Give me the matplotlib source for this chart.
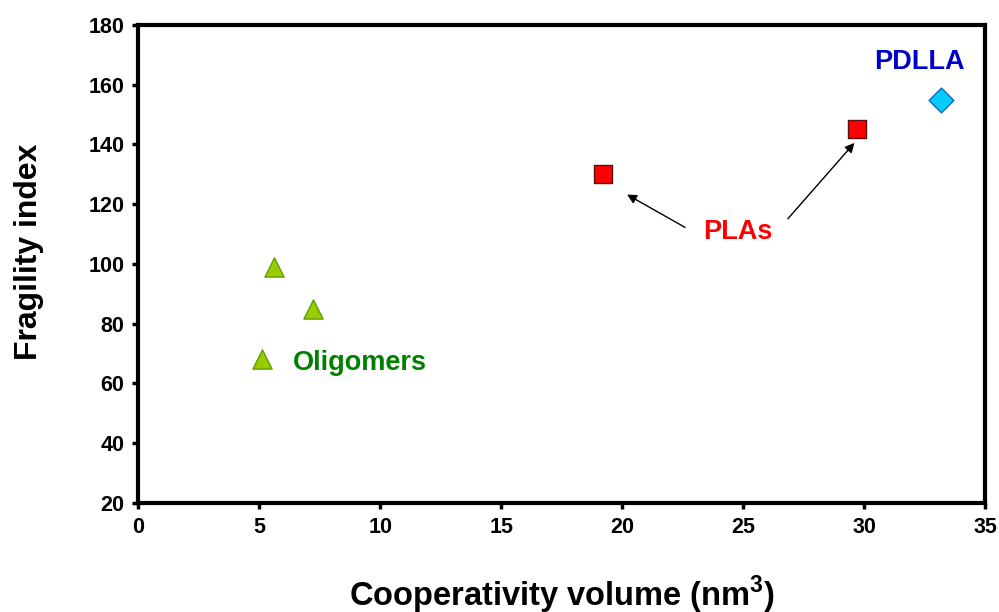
import matplotlib
matplotlib.use("Agg")
import matplotlib.pyplot as plt

plt.rcParams['font.family'] = ['Liberation Sans', 'DejaVu Sans']
plt.rcParams['font.weight'] = 'bold'
plt.rcParams['mathtext.fontset'] = 'custom'
plt.rcParams['mathtext.rm'] = 'Liberation Sans:bold'
plt.rcParams['mathtext.bf'] = 'Liberation Sans:bold'

# cooperativity volume (nm^3) vs fragility index
oligo_x = [5.1, 5.6, 7.2]
oligo_y = [68, 99, 85]
pla_x = [19.2, 29.7]
pla_y = [130, 145]
pdlla_x = [33.2]
pdlla_y = [155]

x_ticks = [0, 5, 10, 15, 20, 25, 30, 35]
y_ticks = [20, 40, 60, 80, 100, 120, 140, 160, 180]

fig = plt.figure(figsize=(9.99, 6.12), dpi=100)
ax = fig.add_axes([0.1386, 0.1786, 0.8474, 0.7806])

ax.scatter(oligo_x, oligo_y, marker='^', s=190, facecolor='#99CC00',
           edgecolor='#5E9E00', linewidth=1.0, zorder=3, clip_on=False)
ax.scatter(pla_x, pla_y, marker='s', s=170, facecolor='#FF0000',
           edgecolor='#5A1010', linewidth=1.0, zorder=3, clip_on=False)
ax.scatter(pdlla_x, pdlla_y, marker='D', s=160, facecolor='#00CCFF',
           edgecolor='#2F5FB0', linewidth=1.0, zorder=3, clip_on=False)

ax.text(6.4, 66.9, 'Oligomers', color='#008000', fontsize=19.5,
        fontweight='bold', ha='left', va='center')
ax.text(24.8, 110.5, 'PLAs', color='#FF0000', fontsize=19.5,
        fontweight='bold', ha='center', va='center')
ax.text(32.3, 167.6, 'PDLLA', color='#0000CC', fontsize=19.5,
        fontweight='bold', ha='center', va='center')

arrow = dict(arrowstyle='-|>', color='black', lw=1.0, mutation_scale=14,
             shrinkA=0, shrinkB=0)
ax.annotate('', xy=(20.2, 123.2), xytext=(22.6, 112.2), arrowprops=arrow)
ax.annotate('', xy=(29.6, 140.5), xytext=(26.85, 115.1), arrowprops=arrow)

ax.set_xlim(0, 35)
ax.set_ylim(20, 180)
ax.set_xticks(x_ticks)
ax.set_yticks(y_ticks)
ax.tick_params(direction='out', length=4, width=2.5, labelsize=15.5, pad=6)
for lab in ax.get_xticklabels() + ax.get_yticklabels():
    lab.set_fontweight('bold')
for sp in ax.spines.values():
    sp.set_linewidth(3)

ax.set_xlabel('Cooperativity volume (nm$^{3}$)', fontsize=23.5,
              fontweight='bold', labelpad=26)
ax.set_ylabel('Fragility index', fontsize=23, fontweight='bold')
ax.yaxis.set_label_coords(-0.112, 0.526)

fig.savefig('out.png', dpi=100)
